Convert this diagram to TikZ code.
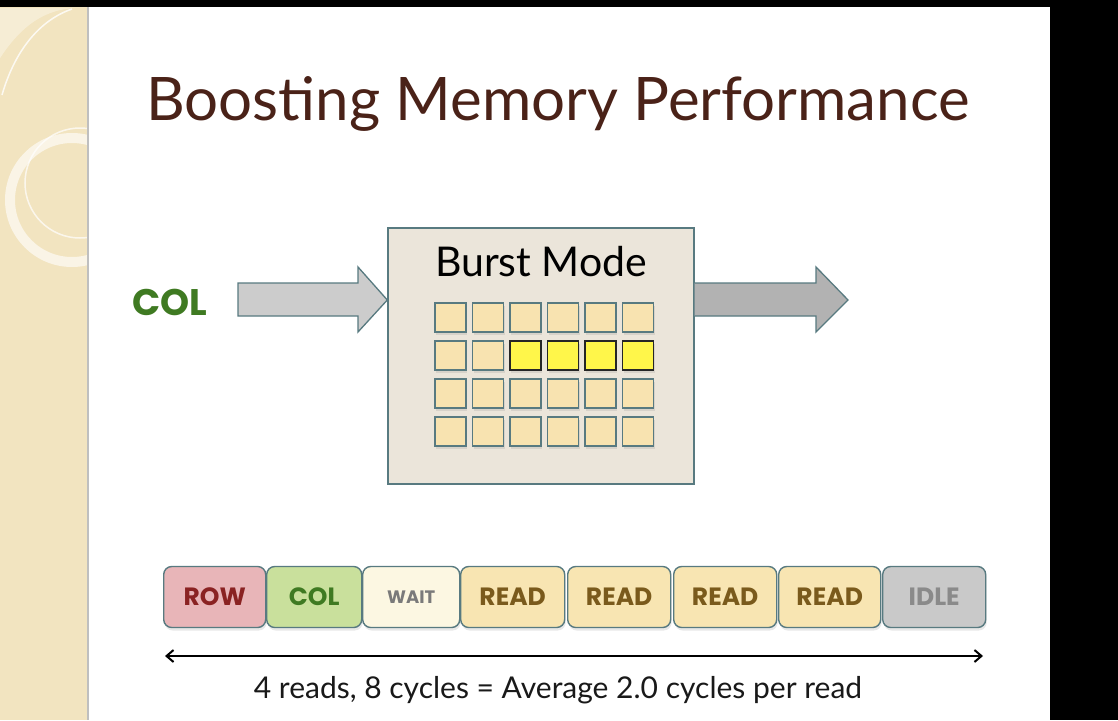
\documentclass[tikz,border=0pt]{standalone}
\usepackage{fontspec}
\setmainfont{Lato}
\newfontfamily\labfont{Poppins}
\usetikzlibrary{arrows.meta,shadows}
\definecolor{titlebrown}{HTML}{4A2218}
\definecolor{panel}{HTML}{F2E4C0}
\definecolor{edge}{HTML}{587A80}
\definecolor{boxfill}{HTML}{EBE5DA}
\definecolor{cell}{HTML}{F8E3B0}
\definecolor{hot}{HTML}{FFF64A}
\definecolor{colgreen}{HTML}{3F7A22}
\definecolor{rowfill}{HTML}{E8B5B8}
\definecolor{rowtext}{HTML}{8A2222}
\definecolor{colfill}{HTML}{C9E09C}
\definecolor{waitfill}{HTML}{FCF7E2}
\definecolor{waittext}{HTML}{7A7A7A}
\definecolor{readfill}{HTML}{F8E5B2}
\definecolor{readtext}{HTML}{7A5A1C}
\definecolor{idlefill}{HTML}{C9C9C9}
\definecolor{idletext}{HTML}{8A8A8A}
\tikzset{
  softshadow/.style={drop shadow={opacity=0.18, shadow xshift=1pt, shadow yshift=-3pt}},
  cellbox/.style={draw=edge, line width=1.3pt, fill=cell, minimum width=31pt, minimum height=29pt, inner sep=0pt, softshadow},
  hotbox/.style={draw=black!85, line width=1.8pt, fill=hot, minimum width=31pt, minimum height=29pt, inner sep=0pt, softshadow},
  slot/.style={draw=edge, line width=1.4pt, rounded corners=8pt, minimum height=61pt, inner sep=0pt, font=\labfont\fontsize{25}{25}\selectfont\bfseries, anchor=west, softshadow},
  blockarrow/.style={draw=edge, line width=1.3pt, line join=miter},
}
\begin{document}
\begin{tikzpicture}[x=1pt,y=-1pt]
\useasboundingbox (0,0) rectangle (1118,720);
% background
\fill[black] (0,0) rectangle (1118,720);
\fill[white] (88,7) rectangle (1050,720);
\fill[panel] (0,7) rectangle (88,720);
\begin{scope}
\clip (0,7) rectangle (88,720);
\fill[white,opacity=0.35] (-20,95) .. controls (10,30) and (40,10) .. (75,8) -- (-20,8) -- cycle;
\draw[white,opacity=0.8,line width=1.5pt] (2,95) .. controls (15,50) and (40,20) .. (72,9);
\draw[white!60!panel,line width=10pt] (72,200) circle (62pt);
\draw[white,opacity=0.7,line width=1.5pt] (80,183) circle (55pt);
\end{scope}
\fill[black!25] (87,7) rectangle (89,720);
% title
\node[text=titlebrown, font=\fontsize{60}{60}\selectfont] (title) at (558,104) {Boosting Memory Performance};
% COL label
\node[text=colgreen, font=\labfont\fontsize{37}{37}\selectfont\bfseries] (col) at (170,302) {COL};
% burst box
\node[draw=edge, line width=1.4pt, fill=boxfill, minimum width=306pt, minimum height=256pt, inner sep=0pt] (burst) at (541,356) {};
\node[font=\fontsize{41}{41}\selectfont] (btitle) at (541,262) {Burst Mode};
% grid
\foreach \j in {0,...,3}{
  \foreach \i in {0,...,5}{
    \pgfmathsetmacro{\cx}{450.5+37.5*\i}
    \pgfmathsetmacro{\cy}{317.5+38*\j}
    \ifnum\j=1 \ifnum\i>1
      \node[hotbox] (c\i\j) at (\cx,\cy) {};
    \else
      \node[cellbox] (c\i\j) at (\cx,\cy) {};
    \fi\else
      \node[cellbox] (c\i\j) at (\cx,\cy) {};
    \fi
  }
}
% arrows
\coordinate (inTip) at (burst.west |- 0,300);
\coordinate (outT) at (burst.east |- 0,283);
\coordinate (outB) at (burst.east |- 0,316);
\draw[blockarrow, fill=black!20] (238,283) -- (358,283) -- (358,267) -- (inTip) -- (358,332) -- (358,316) -- (238,316) -- cycle;
\draw[blockarrow, fill=black!30] (outT) -- (816,283) -- (816,267) -- (848,300) -- (816,332) -- (816,316) -- (outB);
% timeline
\node[slot, fill=rowfill, text=rowtext, minimum width=102pt] (row) at (163,597) {ROW};
\node[slot, fill=colfill, text=colgreen, minimum width=95pt] (tcol) at (266,597) {COL};
\node[slot, fill=waitfill, text=waittext, minimum width=97pt, font=\labfont\fontsize{18}{18}\selectfont\bfseries] (wait) at (362,597) {WAIT};
\node[slot, fill=readfill, text=readtext, minimum width=104pt] (r1) at (460,597) {READ};
\node[slot, fill=readfill, text=readtext, minimum width=103pt] (r2) at (567,597) {READ};
\node[slot, fill=readfill, text=readtext, minimum width=103pt] (r3) at (673,597) {READ};
\node[slot, fill=readfill, text=readtext, minimum width=102pt] (r4) at (778,597) {READ};
\node[slot, fill=idlefill, text=idletext, minimum width=103pt] (idle) at (882,597) {IDLE};
\coordinate (aL) at (165,656);
\coordinate (aR) at (983,656);
\draw[line width=2pt, {Straight Barb[length=7pt,width=12pt]}-{Straight Barb[length=7pt,width=12pt]}] (aL) -- (aR);
\node[text=black!90, font=\fontsize{30}{30}\selectfont] (cap) at (558,690) {4 reads, 8 cycles = Average 2.0 cycles per read};
\end{tikzpicture}
\end{document}
